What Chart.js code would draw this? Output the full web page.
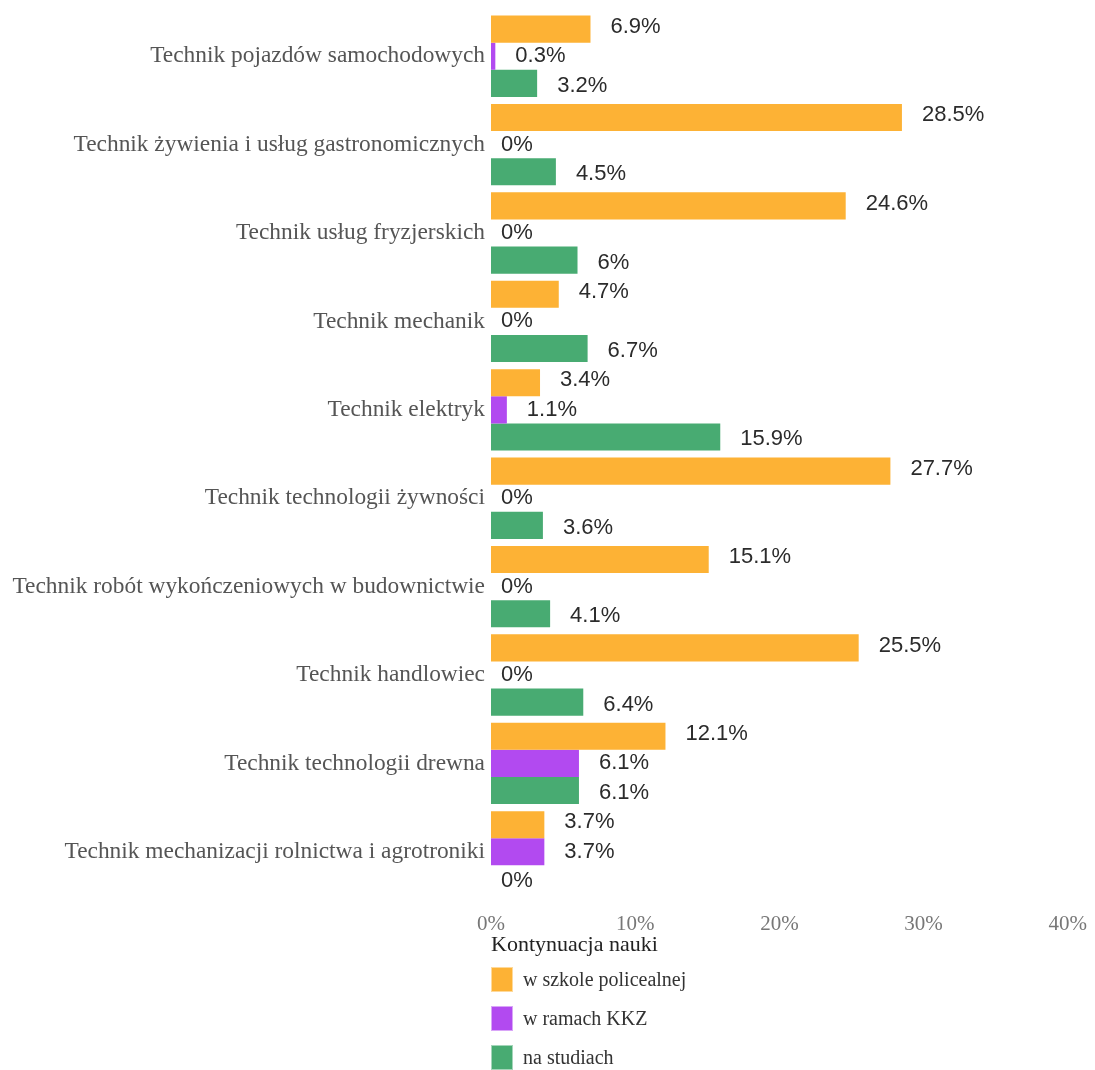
<!DOCTYPE html>
<html>
<head>
<meta charset="utf-8">
<script src="https://cdn.jsdelivr.net/npm/chart.js@4/dist/chart.umd.min.js"></script>
<style>
  body { margin: 0; background: #fff; }
  #wrap { position: relative; width: 1095px; height: 1070px; }
  #box { position: absolute; left: 0; top: 0; width: 1095px; height: 935px; }
  #legend { position: absolute; left: 491px; top: 928px; font-family: "Liberation Serif", "DejaVu Serif", serif; }
  #legend .title { font-size: 22px; color: #222; height: 32px; line-height: 32px; }
  #legend .item { display: flex; align-items: center; height: 39px; font-size: 20px; color: #333; }
  #legend .sw { width: 22px; height: 25px; margin-right: 10px; box-sizing: border-box; }
</style>
</head>
<body>
<div id="wrap">
  <div id="box"><canvas id="chart"></canvas></div>
  <div id="legend"></div>
</div>
<script>
var kategorie = [
  "Technik pojazdów samochodowych",
  "Technik żywienia i usług gastronomicznych",
  "Technik usług fryzjerskich",
  "Technik mechanik",
  "Technik elektryk",
  "Technik technologii żywności",
  "Technik robót wykończeniowych w budownictwie",
  "Technik handlowiec",
  "Technik technologii drewna",
  "Technik mechanizacji rolnictwa i agrotroniki"
];
var szkolaPolicealna = [6.9, 28.5, 24.6, 4.7, 3.4, 27.7, 15.1, 25.5, 12.1, 3.7];
var ramachKKZ = [0.3, 0, 0, 0, 1.1, 0, 0, 0, 6.1, 3.7];
var studia = [3.2, 4.5, 6, 6.7, 15.9, 3.6, 4.1, 6.4, 6.1, 0];
var serie = ["w szkole policealnej", "w ramach KKZ", "na studiach"];
var kolory = ["#FDB235", "#B24AF0", "#48AB72"];
var tytulLegendy = "Kontynuacja nauki";
var xTicks = [0, 10, 20, 30, 40];

// etykiety z wartosciami obok slupkow
var etykiety = {
  id: 'etykiety',
  afterDatasetsDraw(chart) {
    const ctx = chart.ctx;
    const yScale = chart.scales.y;
    ctx.save();
    ctx.font = '22px "Liberation Sans", Arial, sans-serif';
    ctx.fillStyle = '#2b2b2b';
    ctx.textAlign = 'left';
    ctx.textBaseline = 'middle';
    chart.data.datasets.forEach((ds, i) => {
      chart.getDatasetMeta(i).data.forEach((bar, j) => {
        const v = ds.data[j];
        const off = v === 0 ? 10 : 20;
        const y = yScale.getPixelForValue(j) + (i - 1) * 29.5;
        ctx.fillText(v + '%', bar.x + off, y);
      });
    });
    ctx.restore();
  }
};

const ctx = document.getElementById('chart').getContext('2d');
const chart = new Chart(ctx, {
  type: 'bar',
  data: {
    labels: kategorie,
    datasets: [
      { label: serie[0], data: szkolaPolicealna, backgroundColor: kolory[0] },
      { label: serie[1], data: ramachKKZ, backgroundColor: kolory[1] },
      { label: serie[2], data: studia, backgroundColor: kolory[2] }
    ]
  },
  options: {
    indexAxis: 'y',
    responsive: true,
    maintainAspectRatio: false,
    animation: false,
    layout: { padding: { top: 5, right: 27, left: 0, bottom: 0 } },
    datasets: { bar: { barPercentage: 1, categoryPercentage: 0.92 } },
    plugins: {
      legend: { display: false },
      tooltip: { enabled: false }
    },
    scales: {
      x: {
        min: 0, max: 40,
        afterBuildTicks: (s) => { s.ticks = xTicks.map(v => ({ value: v })); },
        afterFit: (s) => { s.height = 39; },
        grid: { display: false },
        border: { display: false },
        ticks: {
          callback: (v) => v + '%',
          color: '#777',
          padding: 8,
          font: { family: '"Liberation Serif", "DejaVu Serif", serif', size: 21 }
        }
      },
      y: {
        afterFit: (s) => { s.width = 491; },
        grid: { display: false },
        border: { display: false },
        ticks: {
          color: '#555',
          padding: -2,
          font: { family: '"Liberation Serif", "DejaVu Serif", serif', size: 23.4 }
        }
      }
    }
  },
  plugins: [etykiety]
});

// legenda w HTML
var leg = document.getElementById('legend');
var t = document.createElement('div');
t.className = 'title';
t.textContent = tytulLegendy;
leg.appendChild(t);
serie.forEach((s, i) => {
  var it = document.createElement('div');
  it.className = 'item';
  var sw = document.createElement('span');
  sw.className = 'sw';
  sw.style.background = kolory[i];
  sw.style.border = '1px solid rgba(255,255,255,0.5)';
  it.appendChild(sw);
  var tx = document.createElement('span');
  tx.textContent = s;
  it.appendChild(tx);
  leg.appendChild(it);
});
</script>
</body>
</html>
